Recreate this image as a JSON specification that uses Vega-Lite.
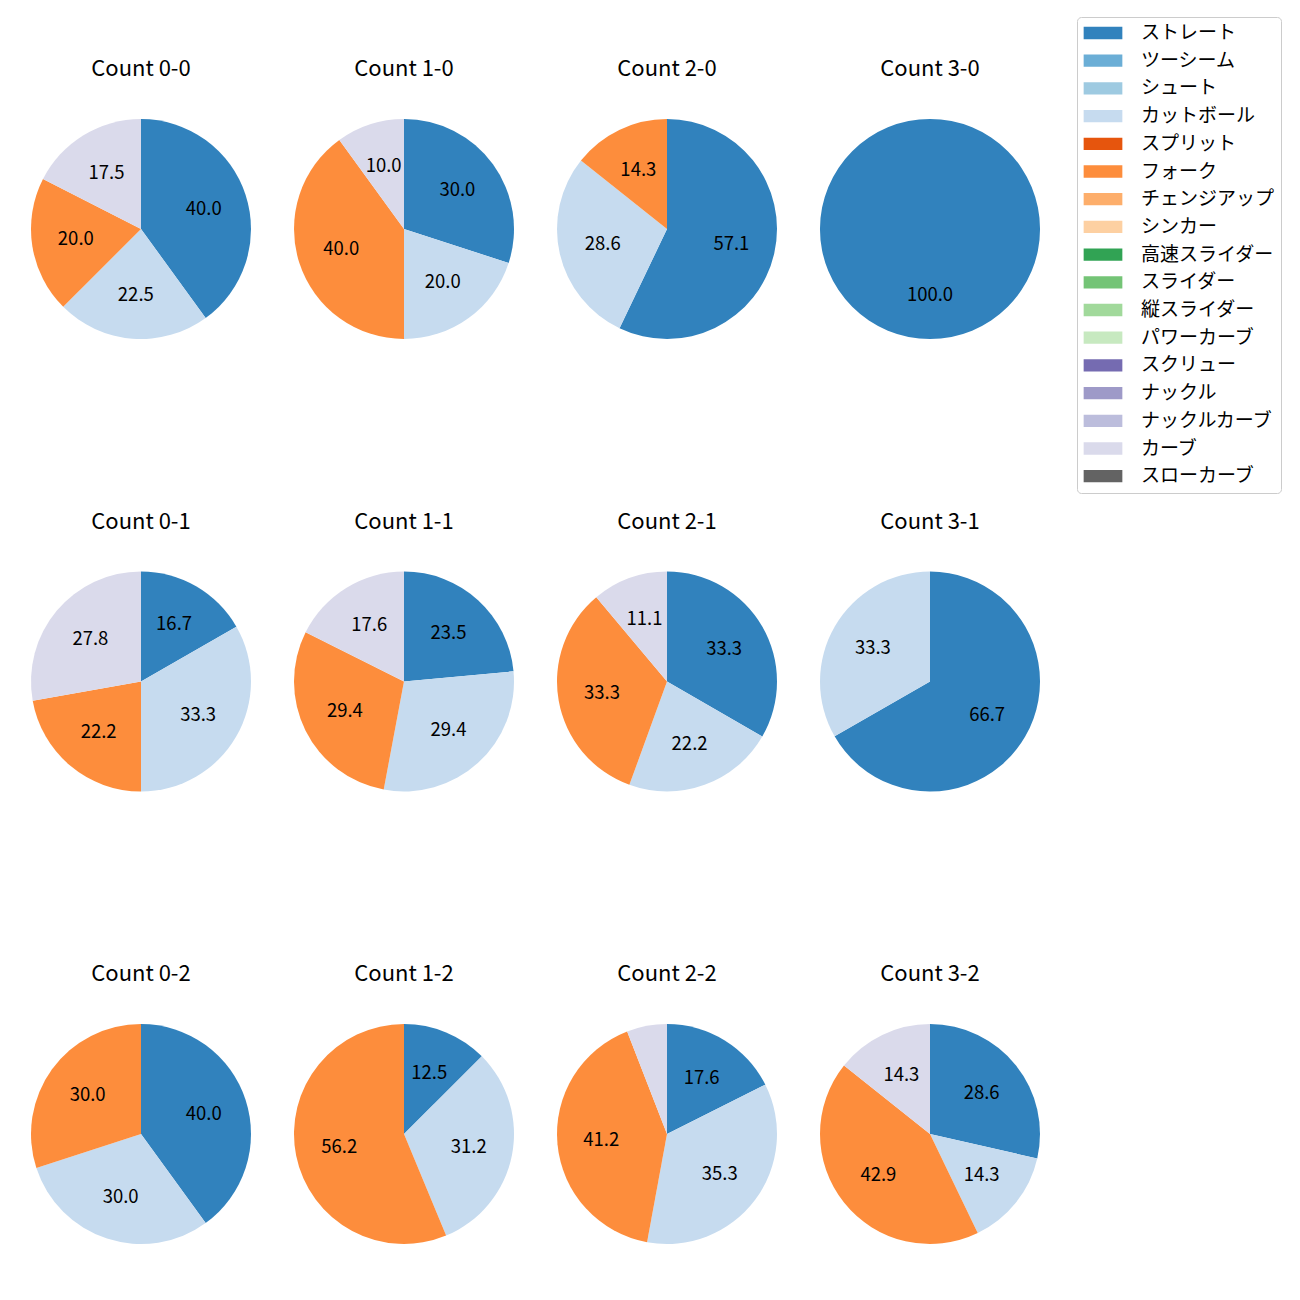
{
  "$schema": "https://vega.github.io/schema/vega-lite/v6.json",
  "background": "white",
  "padding": {"left": 31, "top": 16, "right": 5, "bottom": 5},
  "data": {"values": [
    {"count": "Count 0-0", "idx": 0, "pitch": "ストレート", "k": 0, "pct": 40.0},
    {"count": "Count 0-0", "idx": 0, "pitch": "カットボール", "k": 3, "pct": 22.5},
    {"count": "Count 0-0", "idx": 0, "pitch": "フォーク", "k": 5, "pct": 20.0},
    {"count": "Count 0-0", "idx": 0, "pitch": "カーブ", "k": 15, "pct": 17.5},
    {"count": "Count 1-0", "idx": 1, "pitch": "ストレート", "k": 0, "pct": 30.0},
    {"count": "Count 1-0", "idx": 1, "pitch": "カットボール", "k": 3, "pct": 20.0},
    {"count": "Count 1-0", "idx": 1, "pitch": "フォーク", "k": 5, "pct": 40.0},
    {"count": "Count 1-0", "idx": 1, "pitch": "カーブ", "k": 15, "pct": 10.0},
    {"count": "Count 2-0", "idx": 2, "pitch": "ストレート", "k": 0, "pct": 57.1},
    {"count": "Count 2-0", "idx": 2, "pitch": "カットボール", "k": 3, "pct": 28.6},
    {"count": "Count 2-0", "idx": 2, "pitch": "フォーク", "k": 5, "pct": 14.3},
    {"count": "Count 3-0", "idx": 3, "pitch": "ストレート", "k": 0, "pct": 100.0},
    {"count": "Count 0-1", "idx": 4, "pitch": "ストレート", "k": 0, "pct": 16.7},
    {"count": "Count 0-1", "idx": 4, "pitch": "カットボール", "k": 3, "pct": 33.3},
    {"count": "Count 0-1", "idx": 4, "pitch": "フォーク", "k": 5, "pct": 22.2},
    {"count": "Count 0-1", "idx": 4, "pitch": "カーブ", "k": 15, "pct": 27.8},
    {"count": "Count 1-1", "idx": 5, "pitch": "ストレート", "k": 0, "pct": 23.5},
    {"count": "Count 1-1", "idx": 5, "pitch": "カットボール", "k": 3, "pct": 29.4},
    {"count": "Count 1-1", "idx": 5, "pitch": "フォーク", "k": 5, "pct": 29.4},
    {"count": "Count 1-1", "idx": 5, "pitch": "カーブ", "k": 15, "pct": 17.6},
    {"count": "Count 2-1", "idx": 6, "pitch": "ストレート", "k": 0, "pct": 33.3},
    {"count": "Count 2-1", "idx": 6, "pitch": "カットボール", "k": 3, "pct": 22.2},
    {"count": "Count 2-1", "idx": 6, "pitch": "フォーク", "k": 5, "pct": 33.3},
    {"count": "Count 2-1", "idx": 6, "pitch": "カーブ", "k": 15, "pct": 11.1},
    {"count": "Count 3-1", "idx": 7, "pitch": "ストレート", "k": 0, "pct": 66.7},
    {"count": "Count 3-1", "idx": 7, "pitch": "カットボール", "k": 3, "pct": 33.3},
    {"count": "Count 0-2", "idx": 8, "pitch": "ストレート", "k": 0, "pct": 40.0},
    {"count": "Count 0-2", "idx": 8, "pitch": "カットボール", "k": 3, "pct": 30.0},
    {"count": "Count 0-2", "idx": 8, "pitch": "フォーク", "k": 5, "pct": 30.0},
    {"count": "Count 1-2", "idx": 9, "pitch": "ストレート", "k": 0, "pct": 12.5},
    {"count": "Count 1-2", "idx": 9, "pitch": "カットボール", "k": 3, "pct": 31.2},
    {"count": "Count 1-2", "idx": 9, "pitch": "フォーク", "k": 5, "pct": 56.2},
    {"count": "Count 2-2", "idx": 10, "pitch": "ストレート", "k": 0, "pct": 17.6},
    {"count": "Count 2-2", "idx": 10, "pitch": "カットボール", "k": 3, "pct": 35.3},
    {"count": "Count 2-2", "idx": 10, "pitch": "フォーク", "k": 5, "pct": 41.2},
    {"count": "Count 2-2", "idx": 10, "pitch": "カーブ", "k": 15, "pct": 5.9},
    {"count": "Count 3-2", "idx": 11, "pitch": "ストレート", "k": 0, "pct": 28.6},
    {"count": "Count 3-2", "idx": 11, "pitch": "カットボール", "k": 3, "pct": 14.3},
    {"count": "Count 3-2", "idx": 11, "pitch": "フォーク", "k": 5, "pct": 42.9},
    {"count": "Count 3-2", "idx": 11, "pitch": "カーブ", "k": 15, "pct": 14.3}
  ]},
  "columns": 4,
  "spacing": {"column": 43, "row": 171.5},
  "facet": {
    "field": "count", "type": "nominal",
    "sort": {"field": "idx", "op": "min"},
    "header": {"title": null, "labelFontSize": 22, "labelFont": "Noto Sans CJK JP", "labelColor": "black", "labelPadding": 21, "labelBaseline": "alphabetic"}
  },
  "spec": {
    "width": 220,
    "height": 220,
    "layer": [
      {
        "mark": {"type": "arc", "outerRadius": 110},
        "encoding": {
          "theta": {"field": "pct", "type": "quantitative", "stack": "normalize"},
          "order": {"field": "k", "type": "quantitative"},
          "color": {
            "field": "pitch", "type": "nominal",
            "scale": {
              "domain": ["ストレート", "ツーシーム", "シュート", "カットボール", "スプリット", "フォーク", "チェンジアップ", "シンカー", "高速スライダー", "スライダー", "縦スライダー", "パワーカーブ", "スクリュー", "ナックル", "ナックルカーブ", "カーブ", "スローカーブ"],
              "range": ["#3182bd", "#6baed6", "#9ecae1", "#c6dbef", "#e6550d", "#fd8d3c", "#fdae6b", "#fdd0a2", "#31a354", "#74c476", "#a1d99b", "#c7e9c0", "#756bb1", "#9e9ac8", "#bcbddc", "#dadaeb", "#636363"]
            },
            "legend": {"title": null, "orient": "none", "legendX": 1046, "legendY": -102}
          }
        }
      },
      {
        "mark": {"type": "text", "radius": 66, "fontSize": 18.5, "font": "Noto Sans CJK JP", "color": "black", "align": "center", "baseline": "middle"},
        "encoding": {
          "theta": {"field": "pct", "type": "quantitative", "stack": "normalize"},
          "order": {"field": "k", "type": "quantitative"},
          "detail": {"field": "pitch", "type": "nominal"},
          "text": {"condition": {"test": "datum.pct < 8", "value": ""}, "field": "pct", "type": "quantitative", "format": ".1f"}
        }
      }
    ]
  },
  "config": {
    "view": {"stroke": null},
    "legend": {
      "labelFont": "Noto Sans CJK JP",
      "labelFontSize": 19,
      "labelColor": "black",
      "symbolType": "M-1.935,-0.615H1.935V0.615H-1.935Z",
      "symbolSize": 400,
      "symbolStrokeWidth": 0,
      "symbolOpacity": 1,
      "symbolOffset": 10,
      "labelOffset": 28,
      "rowPadding": 7.7,
      "padding": 6,
      "strokeColor": "#cccccc",
      "fillColor": "white",
      "cornerRadius": 4,
      "labelLimit": 300
    }
  }
}
